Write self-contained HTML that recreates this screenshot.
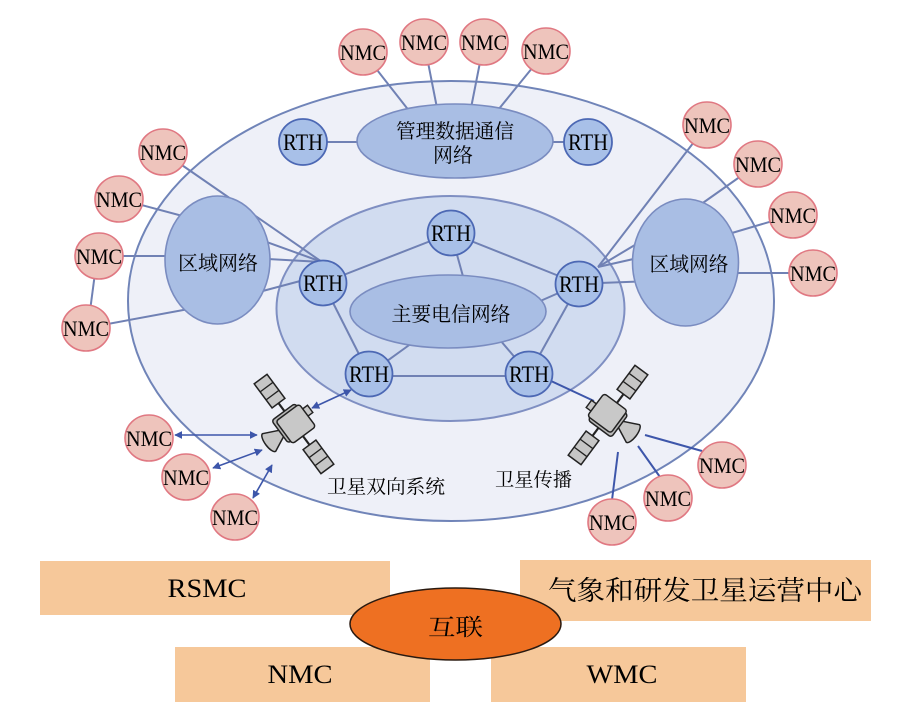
<!DOCTYPE html>
<html><head><meta charset="utf-8"><style>
html,body{margin:0;padding:0;background:#fff;}
svg{display:block;}
.lt{font-family:"Liberation Serif","Noto Serif CJK SC",serif;fill:#000;}
.cn{font-family:"Liberation Serif","Noto Serif CJK SC","Noto Sans CJK SC",serif;fill:#000;}
</style></head><body>
<svg width="898" height="709" viewBox="0 0 898 709" xmlns="http://www.w3.org/2000/svg">
<defs>
<marker id="ah" viewBox="0 0 10 10" refX="9" refY="5" markerWidth="5" markerHeight="5" orient="auto-start-reverse" markerUnits="strokeWidth">
<path d="M0,0 L10,5 L0,10 Z" fill="#3D56AA"/>
</marker>
<g id="sat">
<line x1="-28" y1="0" x2="28" y2="0" stroke="#222" stroke-width="2.2"/>
<rect x="-56" y="-8" width="30" height="16" fill="#C6C6C6" stroke="#222" stroke-width="1.5"/>
<line x1="-46" y1="-8" x2="-46" y2="8" stroke="#222" stroke-width="1.3"/>
<line x1="-36" y1="-8" x2="-36" y2="8" stroke="#222" stroke-width="1.3"/>
<rect x="26" y="-8" width="30" height="16" fill="#C6C6C6" stroke="#222" stroke-width="1.5"/>
<line x1="36" y1="-8" x2="36" y2="8" stroke="#222" stroke-width="1.3"/>
<line x1="46" y1="-8" x2="46" y2="8" stroke="#222" stroke-width="1.3"/>
<path d="M-3,14 L-11,31 A11 4 0 0 0 11,31 L3,14 Z" fill="#C6C6C6" stroke="#222" stroke-width="1.5"/>
<rect x="-7" y="-22" width="9" height="7" fill="#C6C6C6" stroke="#222" stroke-width="1.4"/>
<rect x="-16" y="-13" width="28" height="29" rx="3" fill="#B8B8B8" stroke="#222" stroke-width="1.5"/>
<rect x="-13" y="-16" width="28" height="29" rx="3" fill="#C8C8C8" stroke="#222" stroke-width="1.5"/>
</g>
</defs>

<!-- outer ellipse -->
<ellipse cx="451" cy="301" rx="323" ry="220" fill="#EEF0F8" stroke="#7084B8" stroke-width="2"/>
<!-- middle ellipse -->
<ellipse cx="450.5" cy="308.5" rx="174" ry="112.5" fill="#D1DCF0" stroke="#7F8FC2" stroke-width="2"/>

<!-- connection lines -->
<g stroke="#7081B4" stroke-width="2" fill="none">
<!-- top mgmt -->
<line x1="363" y1="52" x2="410" y2="112"/>
<line x1="424" y1="42" x2="437" y2="108"/>
<line x1="484" y1="42" x2="471" y2="108"/>
<line x1="546" y1="51" x2="498" y2="110"/>
<line x1="303" y1="142" x2="455" y2="142"/>
<line x1="455" y1="142" x2="588" y2="142"/>
<!-- left region -->
<line x1="163" y1="152" x2="322" y2="262"/>
<line x1="250" y1="236" x2="322" y2="262"/>
<line x1="250" y1="258" x2="322" y2="262"/>
<line x1="240" y1="297" x2="304" y2="280"/>
<line x1="119" y1="199" x2="205" y2="222"/>
<line x1="99" y1="256" x2="205" y2="256"/>
<line x1="86" y1="328" x2="205" y2="306"/>
<line x1="97" y1="258" x2="88" y2="326"/>
<!-- right region -->
<line x1="707" y1="125" x2="598" y2="267"/>
<line x1="660" y1="230" x2="598" y2="267"/>
<line x1="660" y1="253" x2="598" y2="267"/>
<line x1="600" y1="283" x2="680" y2="280"/>
<line x1="758" y1="164" x2="690" y2="212"/>
<line x1="793" y1="215" x2="715" y2="238"/>
<line x1="813" y1="273" x2="715" y2="273"/>
<!-- inner pentagon -->
<line x1="451" y1="233" x2="323" y2="283"/>
<line x1="451" y1="233" x2="579" y2="284"/>
<line x1="451" y1="233" x2="464" y2="280"/>
<line x1="323" y1="283" x2="369" y2="374"/>
<line x1="579" y1="284" x2="529" y2="374"/>
<line x1="369" y1="376" x2="529" y2="376"/>
<line x1="369" y1="374" x2="412" y2="343"/>
<line x1="529" y1="374" x2="500" y2="340"/>
<line x1="579" y1="284" x2="538" y2="302"/>
</g>

<!-- satellite lines -->
<g stroke="#3D56AA" stroke-width="1.6" fill="none">
<line x1="351" y1="390" x2="312" y2="408" marker-start="url(#ah)" marker-end="url(#ah)"/>
<line x1="175" y1="435" x2="257" y2="435" marker-start="url(#ah)" marker-end="url(#ah)"/>
<line x1="213" y1="468" x2="262" y2="450" marker-start="url(#ah)" marker-end="url(#ah)"/>
<line x1="253" y1="498" x2="272" y2="465" marker-start="url(#ah)" marker-end="url(#ah)"/>
<line x1="551" y1="381" x2="594" y2="401" stroke-width="2"/>
<line x1="645" y1="435" x2="702" y2="451" stroke-width="2"/>
<line x1="638" y1="446" x2="660" y2="477" stroke-width="2"/>
<line x1="618" y1="452" x2="612" y2="500" stroke-width="2"/>
</g>

<!-- network ellipses -->
<g fill="#A9BEE4" stroke="#7A8CC0" stroke-width="1.6">
<ellipse cx="455" cy="141" rx="98" ry="37"/>
<ellipse cx="217.5" cy="260" rx="52.5" ry="64"/>
<ellipse cx="685.5" cy="262.5" rx="53" ry="63.5"/>
<ellipse cx="448" cy="311.5" rx="98" ry="36.5"/>
</g>

<!-- RTH circles -->
<g fill="#A8C0E8" stroke="#4C68B4" stroke-width="1.8">
<ellipse cx="303" cy="142" rx="24" ry="23"/>
<ellipse cx="588" cy="142" rx="24" ry="23"/>
<ellipse cx="451" cy="233" rx="23.5" ry="22.5"/>
<ellipse cx="323" cy="283" rx="23.5" ry="22.5"/>
<ellipse cx="579" cy="284" rx="23.5" ry="22.5"/>
<ellipse cx="369" cy="374" rx="23.5" ry="22.5"/>
<ellipse cx="529" cy="374" rx="23.5" ry="22.5"/>
</g>

<!-- NMC circles -->
<g fill="#EEC4BC" stroke="#E07882" stroke-width="1.6">
<ellipse cx="363" cy="52" rx="24" ry="23"/>
<ellipse cx="424" cy="42" rx="24" ry="23"/>
<ellipse cx="484" cy="42" rx="24" ry="23"/>
<ellipse cx="546" cy="51" rx="24" ry="23"/>
<ellipse cx="163" cy="152" rx="24" ry="23"/>
<ellipse cx="119" cy="199" rx="24" ry="23"/>
<ellipse cx="99" cy="256" rx="24" ry="23"/>
<ellipse cx="86" cy="328" rx="24" ry="23"/>
<ellipse cx="707" cy="125" rx="24" ry="23"/>
<ellipse cx="758" cy="164" rx="24" ry="23"/>
<ellipse cx="793" cy="215" rx="24" ry="23"/>
<ellipse cx="813" cy="273" rx="24" ry="23"/>
<ellipse cx="149" cy="438" rx="24" ry="23"/>
<ellipse cx="186" cy="477" rx="24" ry="23"/>
<ellipse cx="235" cy="517" rx="24" ry="23"/>
<ellipse cx="722" cy="465" rx="24" ry="23"/>
<ellipse cx="668" cy="498" rx="24" ry="23"/>
<ellipse cx="612" cy="522" rx="24" ry="23"/>
</g>

<!-- satellites -->
<use href="#sat" transform="translate(294,424) rotate(53.4)"/>
<use href="#sat" transform="translate(608,415) rotate(-53.4)"/>

<!-- RTH labels -->
<g class="lt" font-size="23" text-anchor="middle">
<text x="303" y="150" textLength="40" lengthAdjust="spacingAndGlyphs">RTH</text>
<text x="588" y="150" textLength="40" lengthAdjust="spacingAndGlyphs">RTH</text>
<text x="451" y="241" textLength="40" lengthAdjust="spacingAndGlyphs">RTH</text>
<text x="323" y="291" textLength="40" lengthAdjust="spacingAndGlyphs">RTH</text>
<text x="579" y="292" textLength="40" lengthAdjust="spacingAndGlyphs">RTH</text>
<text x="369" y="382" textLength="40" lengthAdjust="spacingAndGlyphs">RTH</text>
<text x="529" y="382" textLength="40" lengthAdjust="spacingAndGlyphs">RTH</text>
</g>

<!-- NMC labels -->
<g class="lt" font-size="22" text-anchor="middle">
<text x="363" y="60" textLength="46" lengthAdjust="spacingAndGlyphs">NMC</text>
<text x="424" y="50" textLength="46" lengthAdjust="spacingAndGlyphs">NMC</text>
<text x="484" y="50" textLength="46" lengthAdjust="spacingAndGlyphs">NMC</text>
<text x="546" y="59" textLength="46" lengthAdjust="spacingAndGlyphs">NMC</text>
<text x="163" y="160" textLength="46" lengthAdjust="spacingAndGlyphs">NMC</text>
<text x="119" y="207" textLength="46" lengthAdjust="spacingAndGlyphs">NMC</text>
<text x="99" y="264" textLength="46" lengthAdjust="spacingAndGlyphs">NMC</text>
<text x="86" y="336" textLength="46" lengthAdjust="spacingAndGlyphs">NMC</text>
<text x="707" y="133" textLength="46" lengthAdjust="spacingAndGlyphs">NMC</text>
<text x="758" y="172" textLength="46" lengthAdjust="spacingAndGlyphs">NMC</text>
<text x="793" y="223" textLength="46" lengthAdjust="spacingAndGlyphs">NMC</text>
<text x="813" y="281" textLength="46" lengthAdjust="spacingAndGlyphs">NMC</text>
<text x="149" y="446" textLength="46" lengthAdjust="spacingAndGlyphs">NMC</text>
<text x="186" y="485" textLength="46" lengthAdjust="spacingAndGlyphs">NMC</text>
<text x="235" y="525" textLength="46" lengthAdjust="spacingAndGlyphs">NMC</text>
<text x="722" y="473" textLength="46" lengthAdjust="spacingAndGlyphs">NMC</text>
<text x="668" y="506" textLength="46" lengthAdjust="spacingAndGlyphs">NMC</text>
<text x="612" y="530" textLength="46" lengthAdjust="spacingAndGlyphs">NMC</text>
</g>

<!-- Chinese labels -->
<g class="cn" font-size="20" text-anchor="middle">
<text x="455" y="138" textLength="118" lengthAdjust="spacingAndGlyphs">管理数据通信</text>
<text x="453" y="162" textLength="40" lengthAdjust="spacingAndGlyphs">网络</text>
<text x="218" y="270" textLength="80" lengthAdjust="spacingAndGlyphs">区域网络</text>
<text x="689" y="271" textLength="79" lengthAdjust="spacingAndGlyphs">区域网络</text>
<text x="451" y="321" textLength="119" lengthAdjust="spacingAndGlyphs">主要电信网络</text>
</g>
<g class="cn" font-size="19">
<text x="327" y="493" textLength="118" lengthAdjust="spacingAndGlyphs">卫星双向系统</text>
<text x="495" y="486" textLength="77" lengthAdjust="spacingAndGlyphs">卫星传播</text>
</g>

<!-- bottom boxes -->
<g fill="#F6C89A">
<rect x="40" y="561" width="350" height="54"/>
<rect x="520" y="560" width="351" height="61"/>
<rect x="175" y="647" width="255" height="55"/>
<rect x="491" y="647" width="255" height="55"/>
</g>
<ellipse cx="455.5" cy="624" rx="105.5" ry="36" fill="#EE7022" stroke="#2a1a10" stroke-width="1.5"/>

<g class="lt" font-size="26" text-anchor="middle">
<text x="207" y="597" textLength="79" lengthAdjust="spacingAndGlyphs">RSMC</text>
<text x="300" y="683" textLength="65" lengthAdjust="spacingAndGlyphs">NMC</text>
<text x="622" y="683" textLength="71" lengthAdjust="spacingAndGlyphs">WMC</text>
</g>
<text class="cn" x="548" y="600" font-size="27" textLength="314" lengthAdjust="spacingAndGlyphs">气象和研发卫星运营中心</text>
<text class="cn" x="455.5" y="635" font-size="23" text-anchor="middle" textLength="55" lengthAdjust="spacingAndGlyphs">互联</text>
</svg>
</body></html>
